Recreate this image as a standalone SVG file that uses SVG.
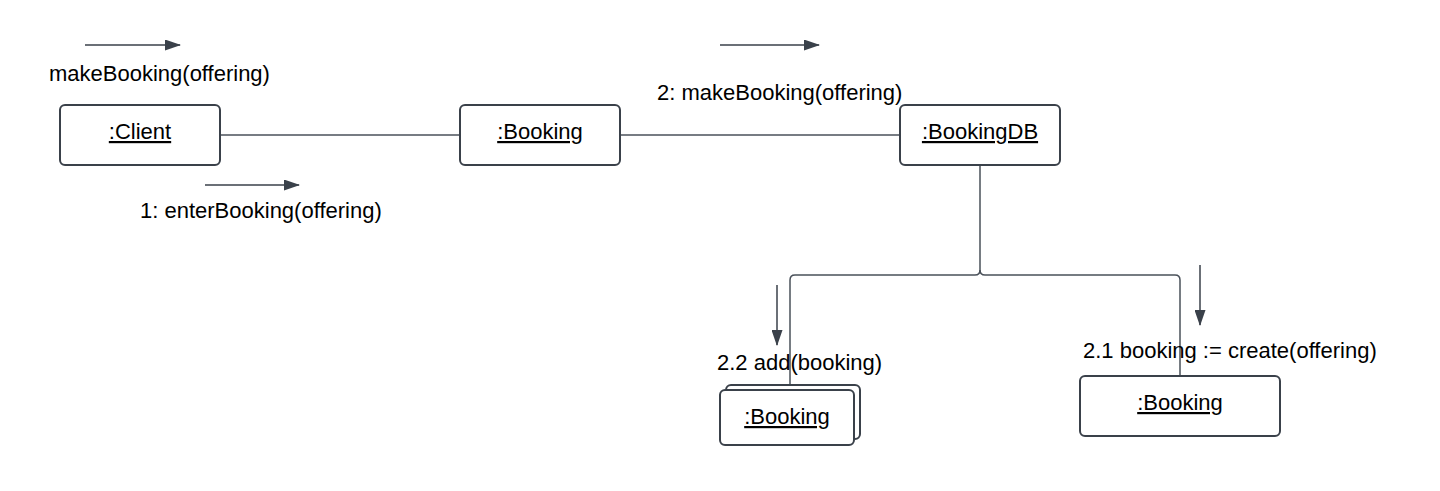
<svg xmlns="http://www.w3.org/2000/svg" width="1440" height="491" viewBox="0 0 1440 491">
<style>
.box{fill:#fff;stroke:#3a414a;stroke-width:2}
.conn{fill:none;stroke:#4a515a;stroke-width:1.5}
.msg{fill:none;stroke:#3a414a;stroke-width:1.5}
.lbl{font-family:"Liberation Sans",Arial,sans-serif;font-size:22px;fill:#000}
.name{font-family:"Liberation Sans",Arial,sans-serif;font-size:22px;fill:#000;text-anchor:middle;text-decoration:underline}
</style>
<defs>
<marker id="ah" markerWidth="16" markerHeight="11" refX="15" refY="5.5" orient="auto" markerUnits="userSpaceOnUse">
<path d="M0,0 L16,5.5 L0,11 Z" fill="#3a414a"/>
</marker>
</defs>
<rect width="1440" height="491" fill="#fff"/>
<g id="connectors">
<path class="conn" d="M220,135 H460"/>
<path class="conn" d="M620,135 H900"/>
<path class="conn" d="M980,165 V270 Q980,275 975,275 H795 Q790,275 790,280 V385"/>
<path class="conn" d="M980,270 Q980,275 985,275 H1175 Q1180,275 1180,280 V376"/>
</g>
<g id="messages">
<path class="msg" d="M85,45 H180" marker-end="url(#ah)"/>
<text class="lbl" x="49" y="81">makeBooking(offering)</text>
<path class="msg" d="M205,185 H299" marker-end="url(#ah)"/>
<text class="lbl" x="140" y="218">1: enterBooking(offering)</text>
<path class="msg" d="M720,45 H819" marker-end="url(#ah)"/>
<text class="lbl" x="657" y="100">2: makeBooking(offering)</text>
<path class="msg" d="M777,285 V345" marker-end="url(#ah)"/>
<text class="lbl" x="717" y="370">2.2 add(booking)</text>
<path class="msg" d="M1200,265 V325" marker-end="url(#ah)"/>
<text class="lbl" x="1083" y="358">2.1 booking := create(offering)</text>
</g>
<g id="client">
<rect class="box" x="60" y="105" width="160" height="60" rx="5"/>
<text class="name" x="140" y="139">:Client</text>
</g>
<g id="booking">
<rect class="box" x="460" y="105" width="160" height="60" rx="5"/>
<text class="name" x="540" y="139">:Booking</text>
</g>
<g id="bookingdb">
<rect class="box" x="900" y="105" width="160" height="60" rx="5"/>
<text class="name" x="980" y="139">:BookingDB</text>
</g>
<g id="bookings-multi">
<rect class="box" x="726" y="385" width="134" height="54" rx="5"/>
<rect class="box" x="720" y="390" width="134" height="55" rx="5"/>
<text class="name" x="787" y="424">:Booking</text>
</g>
<g id="booking-new">
<rect class="box" x="1080" y="376" width="200" height="60" rx="5"/>
<text class="name" x="1180" y="410">:Booking</text>
</g>
</svg>
